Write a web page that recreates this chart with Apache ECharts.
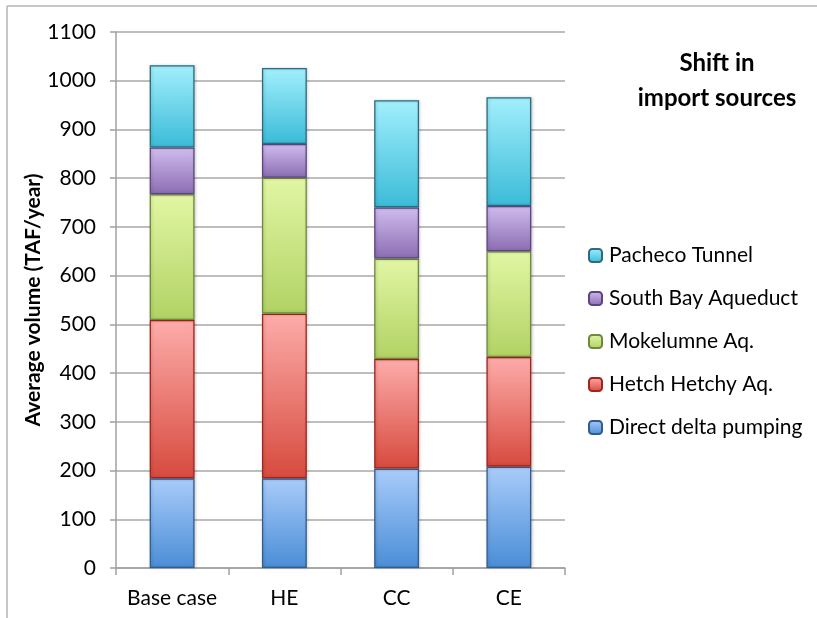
<!DOCTYPE html>
<html>
<head>
<meta charset="utf-8">
<script src="https://cdn.jsdelivr.net/npm/echarts@6/dist/echarts.min.js"></script>
<style>
  html, body { margin: 0; padding: 0; background: #fff; }
  #chart { width: 817px; height: 618px; }
</style>
</head>
<body>
<div id="chart"></div>
<script>
// Scenarios along the x axis
const categories = ['Base case', 'HE', 'CC', 'CE'];

// Average import volume by source (TAF/year), stacked bottom to top
const directDelta = [184, 184, 204, 208];
const hetchHetchy = [325, 338, 225, 225];
const mokelumne   = [258, 279, 206, 217];
const southBay    = [96, 69, 105, 93];
const pacheco     = [169, 156, 220, 223];

const yTicks = { min: 0, max: 1100, interval: 100 };

const FONT = 'Lato, "Open Sans", sans-serif';

function grad(top, bottom) {
  return new echarts.graphic.LinearGradient(0, 0, 0, 1, [
    { offset: 0, color: top },
    { offset: 1, color: bottom }
  ]);
}

const seriesDefs = [
  { name: 'Direct delta pumping', data: directDelta, top: '#a9ccfa', bottom: '#4a8dd6', border: '#2f5d8e' },
  { name: 'Hetch Hetchy Aq.',     data: hetchHetchy, top: '#fdacaa', bottom: '#d74a3e', border: '#a1231b' },
  { name: 'Mokelumne Aq.',        data: mokelumne,   top: '#e2f6a4', bottom: '#b1d264', border: '#6c8a3a' },
  { name: 'South Bay Aqueduct',   data: southBay,    top: '#d0bcee', bottom: '#8b6db2', border: '#5b4580' },
  { name: 'Pacheco Tunnel',       data: pacheco,     top: '#a2effc', bottom: '#3bbbd8', border: '#2a6b80' }
];

const chart = echarts.init(document.getElementById('chart'), null, { renderer: 'canvas' });

chart.setOption({
  backgroundColor: '#ffffff',
  animation: false,
  textStyle: { fontFamily: FONT },
  graphic: [
    // outer frame lines
    { type: 'line', shape: { x1: 7, y1: 6, x2: 817, y2: 6 }, style: { stroke: '#b5b5b5', lineWidth: 1.5 } },
    { type: 'line', shape: { x1: 7, y1: 6, x2: 7, y2: 618 }, style: { stroke: '#b5b5b5', lineWidth: 1.5 } },
    {
      type: 'text', x: 717, y: 46,
      style: {
        text: 'Shift in\nimport sources',
        align: 'center',
        verticalAlign: 'top',
        font: 'bold 24px ' + FONT,
        lineHeight: 35,
        fill: '#000'
      }
    }
  ],
  grid: { left: 116, top: 32, right: 252, bottom: 50, containLabel: false },
  legend: {
    orient: 'vertical',
    left: 583,
    top: 240,
    itemWidth: 13,
    itemHeight: 13,
    itemGap: 22,
    data: seriesDefs.map(s => s.name).reverse(),
    textStyle: { fontSize: 21, color: '#000', fontFamily: FONT, padding: [0, 0, 0, 2] }
  },
  xAxis: {
    type: 'category',
    data: categories,
    axisLine: { lineStyle: { color: '#a0a0a0', width: 1.5 } },
    axisTick: { show: true, interval: 0, length: 7, alignWithLabel: false, lineStyle: { color: '#a0a0a0', width: 1.5 } },
    axisLabel: { color: '#000', fontSize: 21, margin: 20, interval: 0, fontFamily: FONT }
  },
  yAxis: {
    type: 'value',
    min: yTicks.min,
    max: yTicks.max,
    interval: yTicks.interval,
    name: 'Average volume (TAF/year)',
    nameLocation: 'middle',
    nameGap: 72,
    nameMoveOverlap: false,
    nameTextStyle: { fontSize: 21, fontWeight: 'bold', color: '#000', fontFamily: FONT },
    axisLine: { show: true, lineStyle: { color: '#a0a0a0', width: 1.5 } },
    axisTick: { show: true, length: 6, lineStyle: { color: '#a0a0a0', width: 1.5 } },
    axisLabel: { color: '#000', fontSize: 21, margin: 20, fontFamily: FONT, formatter: v => String(v) },
    splitLine: { show: true, lineStyle: { color: '#a8a8a8', width: 1.5 } }
  },
  series: seriesDefs.map(s => ({
    name: s.name,
    type: 'bar',
    stack: 'total',
    barWidth: '40%',
    data: s.data,
    itemStyle: {
      color: grad(s.top, s.bottom),
      borderColor: s.border,
      borderWidth: 1.3,
      shadowColor: 'rgba(0,0,0,0.18)',
      shadowBlur: 3,
      shadowOffsetX: 1
    }
  }))
});
</script>
</body>
</html>
